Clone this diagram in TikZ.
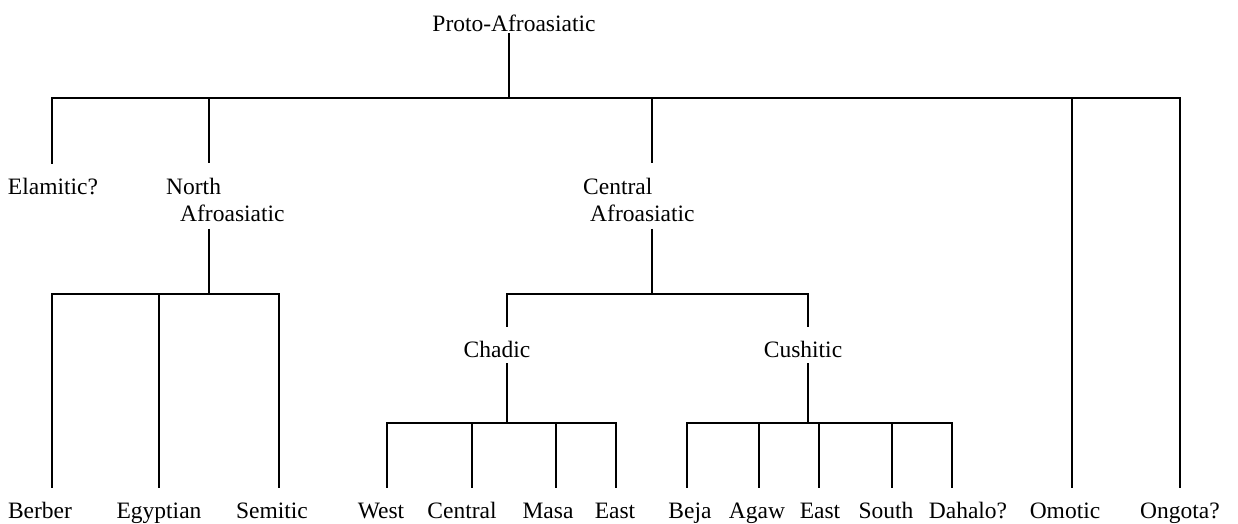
\documentclass[tikz,border=0pt]{standalone}
\usepackage{fontspec}
\setmainfont{Liberation Serif}
\begin{document}
\begin{tikzpicture}[x=1pt,y=-1pt,
  branch/.style={draw=black,line width=1.4pt,line join=miter},
  lang/.style={font={\fontsize{23.5}{27}\selectfont},inner sep=0pt,anchor=base,
               text height=30pt,text depth=6pt},
  group/.style={font={\fontsize{23.5}{27}\selectfont},inner sep=0pt,
                anchor=north west,align=left}]
\useasboundingbox (0,0) rectangle (1238,523);

% labels
\node[lang,text depth=2pt] (proto) at (514,31) {Proto-Afroasiatic};
\node[lang] (elam) at (53,194) {Elamitic?};
\node[group] (northaa) at (166,178) {North\\\hspace*{14pt}Afroasiatic};
\node[group] (centralaa) at (583,178) {Central\\\hspace*{7pt}Afroasiatic};
\node[lang] (chadic) at (497,357) {Chadic};
\node[lang] (cushitic) at (803,357) {Cushitic};

\node[lang] (berber) at (40,518) {Berber};
\node[lang] (egyptian) at (159,518) {Egyptian};
\node[lang] (semitic) at (272,518) {Semitic};
\node[lang] (west) at (381,518) {West};
\node[lang] (centralc) at (462,518) {Central};
\node[lang] (masa) at (548,518) {Masa};
\node[lang] (eastc) at (615,518) {East};
\node[lang] (beja) at (690,518) {Beja};
\node[lang] (agaw) at (757,518) {Agaw};
\node[lang] (eastk) at (820,518) {East};
\node[lang] (south) at (886,518) {South};
\node[lang] (dahalo) at (968,518) {Dahalo?};
\node[lang] (omotic) at (1065,518) {Omotic};
\node[lang] (ongota) at (1180,518) {Ongota?};

% stub ends of the two-line group labels
\coordinate (ntop) at ([yshift=15pt]northaa.north);
\coordinate (nbot) at ([yshift=-7pt]northaa.south);
\coordinate (ctop) at ([yshift=15pt]centralaa.north);
\coordinate (cbot) at ([yshift=-7pt]centralaa.south);

% first split
\coordinate (j0) at (509,98);
\coordinate (t-elam) at (52,98);
\coordinate (t-north) at (209,98);
\coordinate (t-central) at (652,98);
\coordinate (t-omotic) at (1072,98);
\coordinate (t-ongota) at (1180,98);
\draw[branch] (j0 |- proto.south) -- (j0);
\draw[branch] (t-elam |- elam.north) -- (t-elam) -- (t-ongota) -- (t-ongota |- ongota.north);
\draw[branch] (t-north) -- (t-north |- ntop);
\draw[branch] (t-central) -- (t-central |- ctop);
\draw[branch] (t-omotic) -- (t-omotic |- omotic.north);

% North Afroasiatic
\coordinate (n-berber) at (52,294);
\coordinate (n-egypt) at (159,294);
\coordinate (n-semitic) at (279,294);
\draw[branch] (t-north |- nbot) -- (t-north |- n-berber);
\draw[branch] (n-berber |- berber.north) -- (n-berber) -- (n-semitic) -- (n-semitic |- semitic.north);
\draw[branch] (n-egypt) -- (n-egypt |- egyptian.north);

% Central Afroasiatic
\coordinate (c-chadic) at (507,294);
\coordinate (c-cush) at (808,294);
\draw[branch] (t-central |- cbot) -- (t-central |- c-chadic);
\draw[branch] (c-chadic |- chadic.north) -- (c-chadic) -- (c-cush) -- (c-cush |- cushitic.north);

% Chadic
\coordinate (d-west) at (387,423);
\coordinate (d-central) at (472,423);
\coordinate (d-masa) at (556,423);
\coordinate (d-east) at (616,423);
\draw[branch] (c-chadic |- chadic.south) -- (c-chadic |- d-west);
\draw[branch] (d-west |- west.north) -- (d-west) -- (d-east) -- (d-east |- eastc.north);
\draw[branch] (d-central) -- (d-central |- centralc.north);
\draw[branch] (d-masa) -- (d-masa |- masa.north);

% Cushitic
\coordinate (k-beja) at (687,423);
\coordinate (k-agaw) at (759,423);
\coordinate (k-east) at (819,423);
\coordinate (k-south) at (892,423);
\coordinate (k-dahalo) at (952,423);
\draw[branch] (c-cush |- cushitic.south) -- (c-cush |- k-beja);
\draw[branch] (k-beja |- beja.north) -- (k-beja) -- (k-dahalo) -- (k-dahalo |- dahalo.north);
\draw[branch] (k-agaw) -- (k-agaw |- agaw.north);
\draw[branch] (k-east) -- (k-east |- eastk.north);
\draw[branch] (k-south) -- (k-south |- south.north);
\end{tikzpicture}
\end{document}
